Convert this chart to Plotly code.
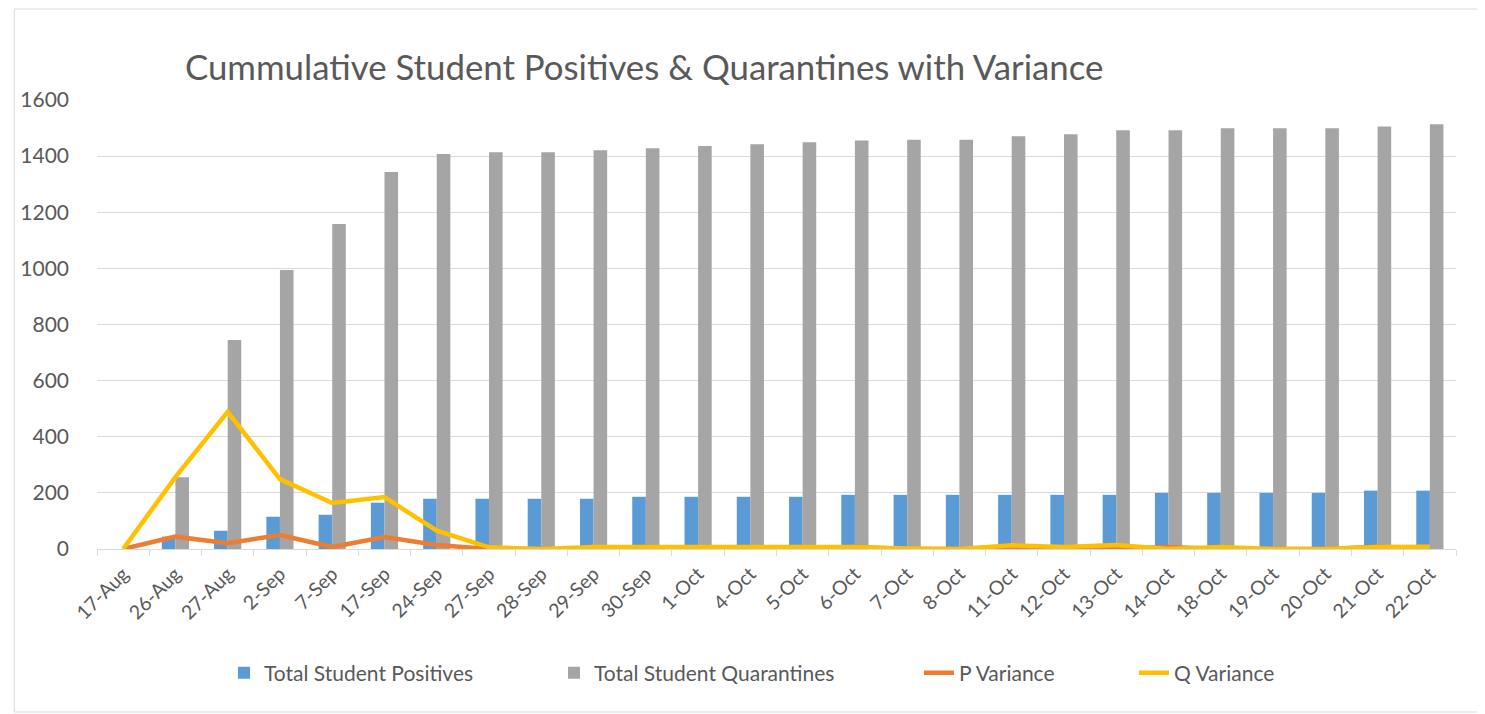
import plotly.graph_objects as go

dates = ["17-Aug", "26-Aug", "27-Aug", "2-Sep", "7-Sep", "17-Sep", "24-Sep", "27-Sep",
         "28-Sep", "29-Sep", "30-Sep", "1-Oct", "4-Oct", "5-Oct", "6-Oct", "7-Oct",
         "8-Oct", "11-Oct", "12-Oct", "13-Oct", "14-Oct", "18-Oct", "19-Oct", "20-Oct",
         "21-Oct", "22-Oct"]

total_positives = [0, 44, 65, 115, 122, 165, 179, 179, 179, 179, 186, 186, 186, 186,
                   193, 193, 193, 193, 193, 193, 200, 200, 200, 200, 208, 208]

total_quarantines = [0, 256, 745, 994, 1158, 1343, 1408, 1414, 1414, 1421, 1428, 1436,
                     1442, 1449, 1456, 1458, 1458, 1471, 1478, 1492, 1492, 1499, 1499,
                     1499, 1506, 1514]

p_variance = [0, 44, 21, 50, 7, 43, 14, 0, 0, 0, 7, 0, 0, 0, 7, 0, 0, 0, 0, 0, 7, 0, 0,
              0, 8, 0]

q_variance = [0, 256, 489, 249, 164, 185, 65, 6, 0, 7, 7, 8, 6, 7, 7, 2, 0, 13, 7, 14,
              0, 7, 0, 0, 7, 8]

FONT = "Lato"
TXT = "#595959"
GRID = "#D9D9D9"

# the page body has an 8px margin, so the figure is laid out in page coords minus 8
W, H = 1477, 706
OFF = 8

fig = go.Figure()
fig.add_trace(go.Bar(x=dates, y=total_positives, name="Total Student Positives",
                     marker=dict(color="#5B9BD5", line=dict(width=0)), legend="legend"))
fig.add_trace(go.Bar(x=dates, y=total_quarantines, name="Total Student Quarantines",
                     marker=dict(color="#A5A5A5", line=dict(width=0)), legend="legend2"))
fig.add_trace(go.Scatter(x=dates, y=p_variance, name="P Variance", mode="lines",
                         line=dict(color="#ED7D31", width=4.5), legend="legend3"))
fig.add_trace(go.Scatter(x=dates, y=q_variance, name="Q Variance", mode="lines",
                         line=dict(color="#FFC000", width=4.5), legend="legend4"))


def cx(px):
    return (px - OFF) / W


def cy(py):
    return 1 - (py - OFF) / H


def leg(text_start):
    return dict(x=cx(text_start - 41), y=cy(673), xref="container", yref="container",
                xanchor="left", yanchor="middle", orientation="h",
                font=dict(family=FONT, size=21, color=TXT), bgcolor="rgba(0,0,0,0)",
                itemwidth=30)


plot_l, plot_r, plot_t, plot_b = 92 - OFF, 1456 - OFF, 100 - OFF, 549 - OFF

fig.update_layout(
    width=W, height=H,
    paper_bgcolor="white", plot_bgcolor="white",
    margin=dict(l=plot_l, r=W - plot_r, t=plot_t, b=H - plot_b),
    barmode="group", bargap=0.48, bargroupgap=0,
    showlegend=True,
    title=dict(text="Cummulative Student Positives & Quarantines with Variance",
               x=cx(185), xanchor="left", y=cy(68), yanchor="middle",
               xref="container", yref="container",
               font=dict(family=FONT, size=34.8, color=TXT)),
    font=dict(family=FONT, color=TXT),
    legend=leg(265),
    legend2=leg(595),
    legend3=leg(960),
    legend4=leg(1175),
    xaxis=dict(type="category", tickangle=-45, showline=True, linecolor=GRID,
               linewidth=1, ticks="outside", tickson="boundaries", ticklen=6,
               tickcolor=GRID, showgrid=False, ticklabelstandoff=5,
               tickfont=dict(family=FONT, size=19.5, color=TXT)),
    yaxis=dict(range=[0, 1600], dtick=200, showgrid=True, gridcolor=GRID,
               gridwidth=1, zeroline=False, showline=False,
               ticklabelstandoff=27,
               tickfont=dict(family=FONT, size=21, color=TXT)),
    shapes=[dict(type="rect", xref="paper", yref="paper",
                 x0=(1 - plot_l) / (plot_r - plot_l),
                 x1=(W - 3 - plot_l) / (plot_r - plot_l),
                 y0=(plot_b - (H - 2)) / (plot_b - plot_t),
                 y1=(plot_b - 1) / (plot_b - plot_t),
                 line=dict(color=GRID, width=1), fillcolor="rgba(0,0,0,0)",
                 layer="below")],
)

fig.write_html("out.html")
